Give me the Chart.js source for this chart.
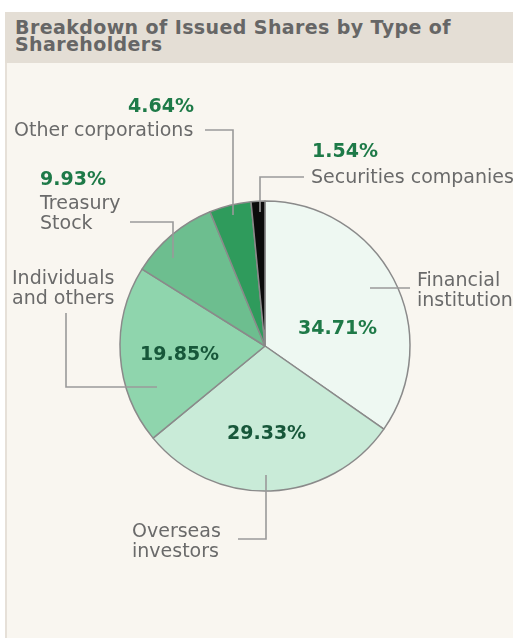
<!DOCTYPE html>
<html>
<head>
<meta charset="utf-8">
<script src="https://cdn.jsdelivr.net/npm/chart.js@4.4.1/dist/chart.umd.min.js"></script>
<style>
  html, body { margin: 0; padding: 0; background: #ffffff; width: 513px; height: 639px; overflow: hidden; }
  #panel { position: absolute; left: 5px; top: 12px; width: 508px; height: 626px; background: #f9f6f0; border-left: 2px solid #e6e0d8; box-sizing: border-box; }
  #header { position: absolute; left: 5px; top: 12px; width: 508px; height: 51px; background: #e4ded5; }
  #title { position: absolute; left: 15px; top: 19px; margin: 0; font-family: "DejaVu Sans", Verdana, sans-serif; font-weight: bold; font-size: 19px; letter-spacing: 0.4px; line-height: 17px; color: #666666; white-space: nowrap; }
  #wrap { position: absolute; left: 0; top: 0; width: 513px; height: 639px; }
</style>
</head>
<body>
<div id="panel"></div>
<div id="header"></div>
<h1 id="title">Breakdown of Issued Shares by Type of<br>Shareholders</h1>
<div id="wrap"><canvas id="c" width="513" height="639"></canvas></div>
<script>
// ---- data ----
const categories = ["Financial institutions", "Overseas investors", "Individuals and others", "Treasury Stock", "Other corporations", "Securities companies"];
const shares = [34.71, 29.33, 19.85, 9.93, 4.64, 1.54];
const labelLines = [["Financial", "institutions"], ["Overseas", "investors"], ["Individuals", "and others"], ["Treasury", "Stock"], ["Other corporations"], ["Securities companies"]];

// ---- styles / layout (annotation placement, relative to pie centre) ----
const sliceColors = ["#eef8f2", "#c9ebd8", "#8fd5ad", "#6dbe8f", "#2f9b5c", "#0b0b0b"];
const PIE = { cx: 265, cy: 346, r: 145 };
const annot = [
  { pct: [33, -12], pctColor: "#1e7a48", text: [152, -60], lead: [[145, -58], [105, -58]] },
  { pct: [-38, 93], pctColor: "#17573a", text: [-133, 191], lead: [[-27, 193], [1, 193], [1, 129]] },
  { pct: [-125, 14], pctColor: "#17573a", text: [-253, -62], lead: [[-199, -33], [-199, 41], [-108, 41]] },
  { pct: [-225, -161], pctColor: "#1e7a48", text: [-225, -137], lead: [[-135, -124], [-92, -124], [-92, -88]] },
  { pct: [-137, -234], pctColor: "#1e7a48", text: [-251, -210], lead: [[-60, -216], [-32, -216], [-32, -131]] },
  { pct: [47, -189], pctColor: "#1e7a48", text: [46, -163], lead: [[39, -169], [-5, -169], [-5, -134]] }
];

const annotPlugin = {
  id: 'annot',
  afterDatasetsDraw(chart) {
    const ctx = chart.ctx;
    const arc0 = chart.getDatasetMeta(0).data[0];
    const cx = arc0.x, cy = arc0.y;
    ctx.save();
    // leader lines
    ctx.strokeStyle = "#9a9a9a";
    ctx.lineWidth = 1.6;
    annot.forEach(a => {
      ctx.beginPath();
      a.lead.forEach((p, i) => {
        const x = cx + p[0], y = cy + p[1];
        if (i === 0) ctx.moveTo(x, y); else ctx.lineTo(x, y);
      });
      ctx.stroke();
    });
    // category labels
    ctx.textAlign = "left";
    ctx.textBaseline = "alphabetic";
    ctx.font = '19px "DejaVu Sans", Verdana, sans-serif';
    ctx.fillStyle = "#6a6a6a";
    labelLines.forEach((lines, i) => {
      const a = annot[i];
      lines.forEach((ln, j) => ctx.fillText(ln, cx + a.text[0], cy + a.text[1] + j * 20));
    });
    // percentage labels
    ctx.font = 'bold 19px "DejaVu Sans", Verdana, sans-serif';
    shares.forEach((v, i) => {
      const a = annot[i];
      ctx.fillStyle = a.pctColor;
      ctx.fillText(v.toFixed(2) + "%", cx + a.pct[0], cy + a.pct[1]);
    });
    ctx.restore();
  }
};

new Chart(document.getElementById('c'), {
  type: 'pie',
  data: {
    labels: categories,
    datasets: [{
      data: shares,
      backgroundColor: sliceColors,
      borderColor: "#8a8a8a",
      borderWidth: 1.5
    }]
  },
  options: {
    responsive: false,
    animation: false,
    radius: PIE.r,
    layout: { padding: { left: PIE.cx - 200, right: 513 - PIE.cx - 200, top: PIE.cy - 250, bottom: 639 - PIE.cy - 250 } },
    plugins: { legend: { display: false }, tooltip: { enabled: false }, title: { display: false } }
  },
  plugins: [annotPlugin]
});
</script>
</body>
</html>
